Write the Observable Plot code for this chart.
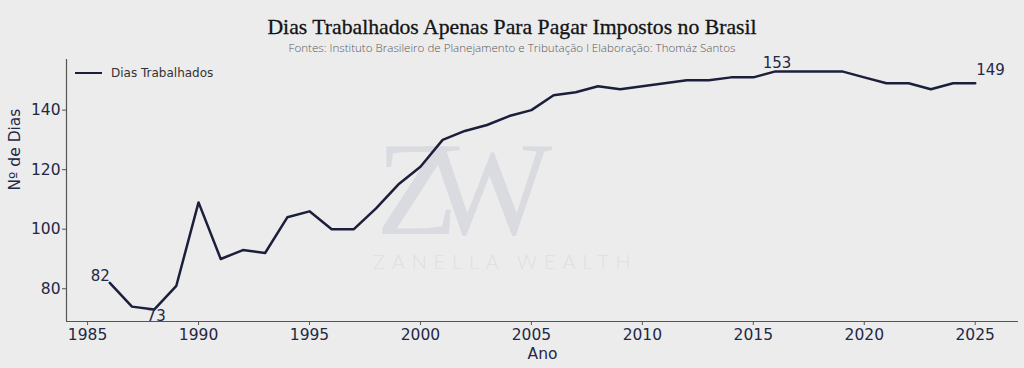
<!DOCTYPE html>
<html>
<head>
<meta charset="utf-8">
<script src="https://cdn.jsdelivr.net/npm/d3@7"></script>
<script src="https://cdn.jsdelivr.net/npm/@observablehq/plot@0.6"></script>
<style>
  html, body { margin: 0; padding: 0; background: #ececec; }
  #wrap { position: relative; width: 1024px; height: 368px; overflow: hidden; background: #ececec; }
  #head { height: 56px; position: relative; }
  #title { position: absolute; left: 0; width: 1024px; top: 17px; text-align: center; line-height: 1;
    font-family: "Liberation Serif", serif; font-size: 21.5px; color: #141414;
    transform: scaleX(1.01); -webkit-text-stroke: 0.3px #141414; }
  #subtitle { position: absolute; left: 0; width: 1024px; top: 42px; text-align: center; line-height: 1;
    font-family: "Open Sans", sans-serif; font-weight: 300; font-size: 11.6px; color: #5a5a5a; }
  #wm { position: absolute; left: 0; top: 0; width: 1024px; height: 368px; pointer-events: none; }
  #zw { position: absolute; left: 376px; top: 141px; font-family: "Liberation Serif", serif;
    font-size: 134px; color: #d9dbe1; letter-spacing: -32px; line-height: 0.72; }
  #zwtext { position: absolute; left: 373px; top: 251px; font-family: Lato, sans-serif; font-weight: 300;
    font-size: 20px; color: #dfdfdf; letter-spacing: 6.8px; line-height: 1; }
  #legend { position: absolute; left: 75px; top: 66px; font-family: "DejaVu Sans", sans-serif;
    font-size: 12px; color: #333; display: flex; align-items: center; }
  #legend .sw { width: 27px; height: 2.5px; background: #1b1f3b; margin-right: 9px; }
  #chart { position: relative; }
</style>
</head>
<body>
<div id="wrap">
  <div id="wm">
    <div id="zw">ZW</div>
    <div id="zwtext">ZANELLA WEALTH</div>
  </div>
  <div id="head">
    <div id="title">Dias Trabalhados Apenas Para Pagar Impostos no Brasil</div>
    <div id="subtitle">Fontes: Instituto Brasileiro de Planejamento e Tributação l Elaboração: Thomáz Santos</div>
  </div>
  <div id="chart"></div>
  <div id="legend"><div class="sw"></div><span>Dias Trabalhados</span></div>
</div>
<script>
const years = d3.range(1986, 2026);
const dias = [82, 74, 73, 81, 109, 90, 93, 92, 104, 106,
              100, 100, 107, 115, 121, 130, 133, 135, 138, 140,
              145, 146, 148, 147, 148, 149, 150, 150, 151, 151,
              153, 153, 153, 153, 151, 149, 149, 147, 149, 149];
const xTicks = [1985, 1990, 1995, 2000, 2005, 2010, 2015, 2020, 2025];
const yTicks = [80, 100, 120, 140];
const seriesName = "Dias Trabalhados";
const annotations = [
  {year: 1986, value: 82, anchor: "end", dx: 0, dy: -7},
  {year: 1988, value: 73, anchor: "middle", dx: 2, dy: 7},
  {year: 2016, value: 153, anchor: "middle", dx: 1.5, dy: -8.5},
  {year: 2025, value: 149, anchor: "start", dx: 1, dy: -13}
];

const data = years.map((y, i) => ({year: y, value: dias[i]}));
const xDom = [1984.05, 2026.95];
const yDom = [69, 157];
const ink = "#232847";
const lineColor = "#1b1f3b";

const chart = Plot.plot({
  width: 1024,
  height: 312,
  marginTop: 3,
  marginLeft: 66,
  marginRight: 6,
  marginBottom: 47,
  style: {background: "transparent", fontFamily: "DejaVu Sans, sans-serif", fontSize: "15.5px", color: ink, overflow: "visible"},
  x: {domain: xDom},
  y: {domain: yDom},
  marks: [
    Plot.ruleX([xDom[0]], {stroke: "#555", strokeWidth: 1.2}),
    Plot.ruleY([yDom[0]], {stroke: "#555", strokeWidth: 1.2}),
    Plot.axisX({ticks: xTicks, tickFormat: d => String(d), tickSize: 4, tickPadding: 3, stroke: "#555", fill: ink, label: null, fontSize: 15.5}),
    Plot.axisY({ticks: yTicks, tickSize: 4, tickPadding: 2, stroke: "#555", fill: ink, label: null, fontSize: 15.5}),
    Plot.text(["Nº de Dias"], {frameAnchor: "left", dx: -51, rotate: -90, fill: ink, fontSize: 15.5}),
    Plot.text(["Ano"], {frameAnchor: "bottom", dy: 37, fill: ink, fontSize: 15.5}),
    Plot.line(data, {x: "year", y: "value", stroke: lineColor, strokeWidth: 2.5}),
    ...annotations.map(a => Plot.text([a], {x: "year", y: "value", text: d => String(d.value),
      textAnchor: a.anchor, dx: a.dx, dy: a.dy, fill: ink, fontSize: 15}))
  ]
});
document.getElementById("chart").appendChild(chart);
</script>
</body>
</html>
